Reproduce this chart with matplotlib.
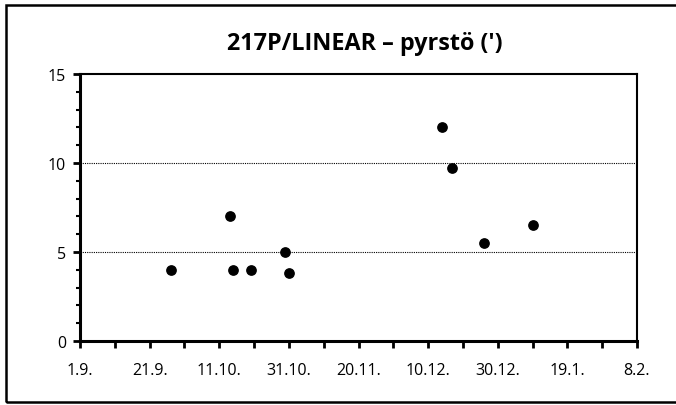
import datetime as dt
import matplotlib
matplotlib.use('Agg')
import matplotlib.pyplot as plt
import matplotlib.dates as mdates
from matplotlib.patches import Rectangle
from matplotlib.ticker import MultipleLocator

plt.rcParams['font.family'] = ['Open Sans', 'DejaVu Sans']

# havainnot: päivämäärä ja pyrstön pituus (')
dates = ['2009-09-27', '2009-10-14', '2009-10-15', '2009-10-20', '2009-10-30',
         '2009-10-31', '2009-12-14', '2009-12-17', '2009-12-26', '2010-01-09']
tail = [4.0, 7.0, 4.0, 4.0, 5.0, 3.8, 12.0, 9.7, 5.5, 6.5]

tick_dates = ['2009-09-01', '2009-09-21', '2009-10-11', '2009-10-31', '2009-11-20',
              '2009-12-10', '2009-12-30', '2010-01-19', '2010-02-08']
tick_labels = ['1.9.', '21.9.', '11.10.', '31.10.', '20.11.', '10.12.', '30.12.', '19.1.', '8.2.']

x = [dt.datetime.strptime(d, '%Y-%m-%d') for d in dates]
xt = [dt.datetime.strptime(d, '%Y-%m-%d') for d in tick_dates]

fig = plt.figure(figsize=(6.76, 4.06), dpi=100)
ax = fig.add_axes([80/676, 64/406, 557/676, 267/406])

ax.scatter(x, tail, s=45, color='black', zorder=3)

ax.set_xlim(xt[0], xt[-1])
ax.set_ylim(0, 15)
ax.set_xticks(xt)
ax.set_xticklabels(tick_labels)
ax.xaxis.set_minor_locator(mdates.DayLocator(interval=10))
ax.set_yticks([0, 5, 10, 15])
ax.yaxis.set_minor_locator(MultipleLocator(1))

ax.tick_params(axis='both', which='major', direction='out', length=5, width=2,
               labelsize=11.5, pad=10)
ax.tick_params(axis='y', which='major', pad=5)
ax.tick_params(axis='x', which='minor', direction='out', length=5, width=2)
ax.tick_params(axis='y', which='minor', direction='out', length=3, width=1.5)

for s in ax.spines.values():
    s.set_linewidth(1.5)
ax.spines['left'].set_linewidth(2.2)
ax.spines['bottom'].set_linewidth(2.2)

for yv in [5, 10]:
    ax.axhline(yv, color='black', linestyle=(0, (1, 1)), linewidth=0.8, zorder=1)

fig.text(365/676, 1 - 44/406, "217P/LINEAR – pyrstö (')", ha='center', va='center',
         fontsize=16.8, fontweight='bold')

# kaavion reunus (oikea reuna jää kuvan ulkopuolelle)
fig.patches.append(Rectangle((6/676, 3/406), 700/676, 397/406, transform=fig.transFigure,
                             fill=False, edgecolor='black', linewidth=1.8))

fig.savefig('out.png', dpi=100)
